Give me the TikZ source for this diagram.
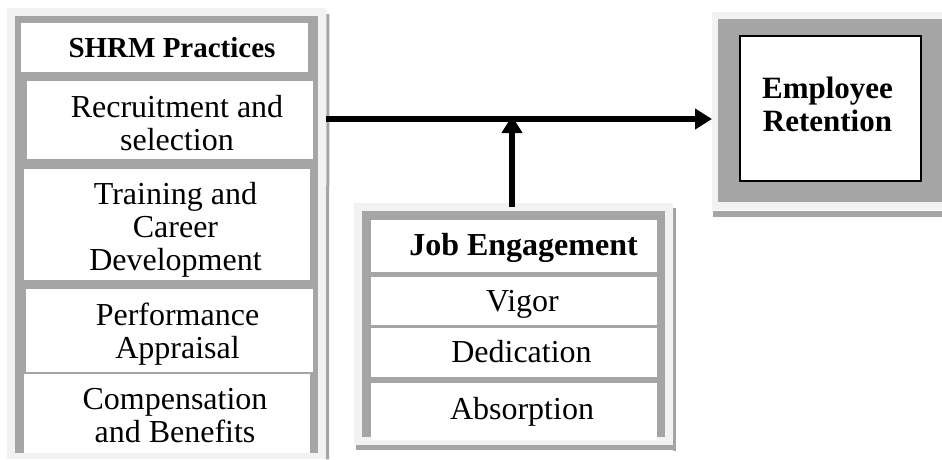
\documentclass[tikz,border=0pt]{standalone}
\usepackage{fontspec}
\setmainfont{Liberation Serif}
\usetikzlibrary{arrows.meta}
\definecolor{framegray}{RGB}{242,242,242}
\definecolor{panelgray}{RGB}{165,165,165}

\begin{document}
\begin{tikzpicture}[x=1pt, y=-1pt, >={Triangle[length=17pt, width=20pt]},
  frame/.style={anchor=north west, fill=framegray, inner sep=0pt},
  panel/.style={anchor=north west, fill=panelgray, inner sep=0pt},
  cell/.style={anchor=north west, fill=white, inner sep=0pt},
  txt/.style={align=center, inner sep=0pt, font=\fontsize{32}{33}\selectfont},
  shade/.style={panelgray, line width=3pt},
  link/.style={->, line width=6pt}]
\useasboundingbox (0,0) rectangle (942,459);
% SHRM practices
\node (shrmframe) at (7,8) [frame, minimum width=319pt, minimum height=451pt] {};
\node (shrm) at (15,16) [panel, minimum width=303pt, minimum height=437pt] {};
\node (shrmhead) at (21,23) [cell, minimum width=287pt, minimum height=49pt] {};
\node (recruit) at (27,81) [cell, minimum width=286pt, minimum height=78pt] {};
\node (training) at (24,169) [cell, minimum width=286pt, minimum height=111pt] {};
\node (appraisal) at (26,289) [cell, minimum width=287pt, minimum height=83pt] {};
\node (comp) at (24,374) [cell, minimum width=286pt, minimum height=79pt] {};
\draw[shade] (shrmframe.north east) ++(1.5,6) -- (shrmframe.south east -| 327.5,459);
\node (shrmtext) at (172,48) [txt, font=\bfseries\fontsize{29}{30}\selectfont] {SHRM Practices};
\node (recruittext) at (177,123.5) [txt] {Recruitment and\\selection};
\node (trainingtext) at (175.5,229.5) [txt] {Training and\\Career\\Development};
\node (appraisaltext) at (177.5,334.5) [txt] {Performance\\Appraisal};
\node (comptext) at (175,415.5) [txt] {Compensation\\and Benefits};
% job engagement
\node (engframe) at (354,203) [frame, minimum width=319pt, minimum height=242pt] {};
\node (engage) at (362,211) [panel, minimum width=303pt, minimum height=226pt] {};
\node (engagehead) at (371,220) [cell, minimum width=286pt, minimum height=52pt] {};
\node (vigor) at (371,277) [cell, minimum width=286pt, minimum height=48pt] {};
\node (dedication) at (371,328) [cell, minimum width=286pt, minimum height=49pt] {};
\node (absorption) at (371,383) [cell, minimum width=286pt, minimum height=57pt] {};
\draw[shade] (674.5,208) -- (674.5,451);
\draw[panelgray, line width=5pt] (356,447.5) -- (676,447.5);
\node (engagetext) at (523.5,247.5) [txt, font=\bfseries\fontsize{32}{33}\selectfont] {Job Engagement};
\node (vigortext) at (522.5,304.5) [txt] {Vigor};
\node (dedicationtext) at (521.5,352) [txt] {Dedication};
\node (absorptiontext) at (522,412) [txt] {Absorption};
% employee retention
\node (retframe) at (712,12) [frame, minimum width=230pt, minimum height=198pt] {};
\node (retpanel) at (718,19) [panel, minimum width=224pt, minimum height=183pt] {};
\node (retention) at (739,35) [cell, draw=black, line width=1.5pt, minimum width=181pt, minimum height=145pt] {};
\draw[panelgray, line width=6pt] (713,214) -- (942,214);
\node (retentiontext) at (827.5,104) [txt, font=\bfseries\fontsize{31}{33}\selectfont] {Employee\\Retention};
% arrows
\coordinate (meet) at (512,119);
\draw[link] (shrmframe.east |- meet) -- (retframe.west |- meet);
\draw[link] (engframe.north -| meet) ++(0,4) -- ([yshift=3pt]meet);
\end{tikzpicture}
\end{document}
